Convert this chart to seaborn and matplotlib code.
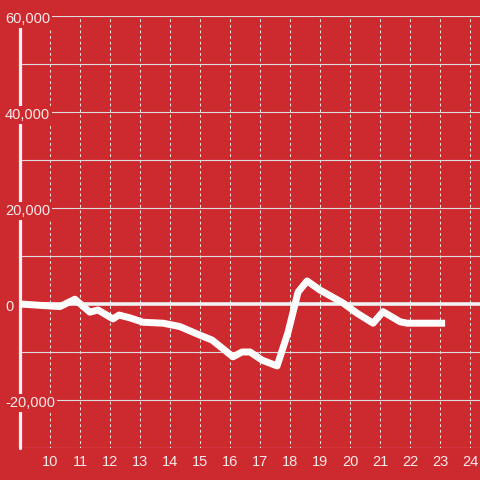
import numpy as np
import pandas as pd
import seaborn as sns
import matplotlib
matplotlib.use("Agg")
from matplotlib import pyplot as plt
from matplotlib import transforms

# data
hours = [9.0, 10.33, 10.83, 11.33, 11.6, 12.1, 12.3, 12.67, 13.1, 13.77, 14.33,
         15.0, 15.4, 16.1, 16.4, 16.67, 17.07, 17.57, 17.93, 18.27, 18.57,
         19.0, 19.4, 19.77, 20.23, 20.77, 21.1, 21.67, 21.9, 23.17]
values = [0, -550, 1000, -1700, -1250, -3100, -2300, -2900, -3800, -4000, -4700,
          -6500, -7500, -11000, -10000, -10000, -11700, -12900, -6000, 2500, 4800,
          2900, 1500, 200, -1900, -4000, -1600, -3700, -4000, -4000]
x_ticks = list(range(10, 25))
y_ticks = [60000, 40000, 20000, 0, -20000]
y_labels = ["60,000", "40,000", "20,000", "0", "-20,000"]

red = "#cd2a2f"
txt = "#f6eaea"

sns.set_style("white")
plt.rcParams["font.family"] = ["Liberation Sans", "DejaVu Sans"]

df = pd.DataFrame({"hour": hours, "value": values})

fig = plt.figure(figsize=(4.8, 4.8), dpi=100, facecolor=red)
ax = fig.add_axes([20 / 480, 32 / 480, 460 / 480, 432 / 480])
ax.set_facecolor(red)

sns.lineplot(data=df, x="hour", y="value", ax=ax, color="white", lw=5,
             solid_capstyle="butt", solid_joinstyle="round", zorder=4)

ax.set_xlim(9, 9 + 460 / 30)
ax.set_ylim(-30000, 60000)

# grid
ax.set_yticks(np.arange(-30000, 60001, 10000))
ax.set_xticks(x_ticks)
ax.yaxis.grid(True, color="#dcdcdc", lw=0.8, ls="-")
ax.xaxis.grid(True, color="#e2e2e2", lw=0.75, ls=(1, (2.7, 2.7)))
ax.tick_params(axis="y", left=False, labelleft=False)
ax.tick_params(axis="x", length=0, pad=5, labelsize=10.5, labelcolor=txt)
ax.set_xlabel("")
ax.set_ylabel("")
for s in ax.spines.values():
    s.set_visible(False)

# zero line and left axis
ax.axhline(0, color="#f2f2f2", lw=2.6, zorder=2)
ax.axvline(9, color="#f2f2f2", lw=2.3, zorder=2, clip_on=False)

# y labels with background boxes, sitting a little below their line
trans = transforms.blended_transform_factory(fig.transFigure, ax.transData)
trans = trans + transforms.ScaledTranslation(0, -3 / 100, fig.dpi_scale_trans)
for v, lab in zip(y_ticks, y_labels):
    ax.text(5 / 480, v, lab, transform=trans, ha="left", va="center",
            fontsize=10.5, color=txt, zorder=5,
            bbox=dict(facecolor=red, edgecolor="none", pad=1.5))

fig.savefig("out.png", dpi=100, facecolor=red)
plt.close(fig)
